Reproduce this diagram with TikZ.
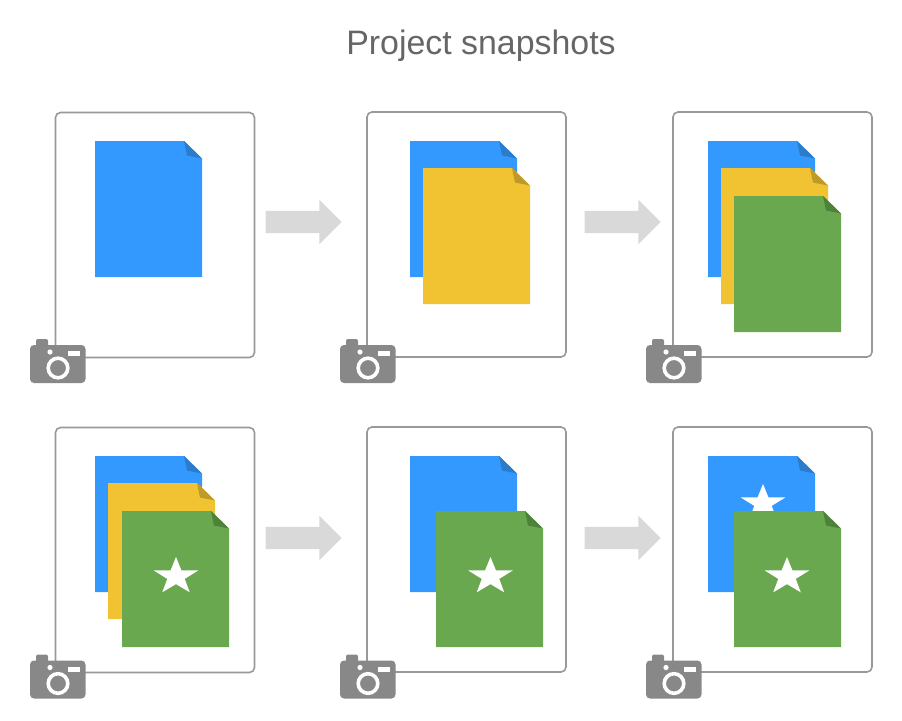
\documentclass[tikz,border=0pt]{standalone}
\usepackage{fontspec}
\setmainfont{Liberation Sans}
\usetikzlibrary{shapes.geometric,shapes.arrows}

\definecolor{docblue}{HTML}{3399FF}
\definecolor{foldblue}{HTML}{2B7CCB}
\definecolor{docyellow}{HTML}{F1C232}
\definecolor{foldyellow}{HTML}{BF9A28}
\definecolor{docgreen}{HTML}{6AA84F}
\definecolor{foldgreen}{HTML}{4E8239}
\definecolor{framegray}{HTML}{999999}
\definecolor{arrowgray}{HTML}{D9D9D9}
\definecolor{camgray}{HTML}{888888}
\definecolor{titlegray}{HTML}{666666}

\tikzset{
  frame node/.style={draw=framegray,line width=1.6pt,rounded corners=5pt,fill=white,inner sep=0pt,minimum width=199pt,minimum height=245pt},
  step arrow/.style={single arrow,fill=arrowgray,inner xsep=0pt,inner ysep=11pt,minimum height=76pt,single arrow head extend=11pt,single arrow tip angle=90},
  star mark/.style={star,star points=5,star point ratio=2.55,fill=white,inner sep=0pt,minimum size=39pt,xscale=1.2,transform shape}
}

% top left corner of a sheet, colour, colour of the fold
\newcommand{\docsheet}[4]{
  \fill[#3] (#1,#2) -- ++(89,0) -- ++(18,17.5) -- ++(0,118.5) -- ++(-107,0) -- cycle;
  \fill[#4] (#1+89,#2) -- ++(18,17.5) -- ++(-15,-3) -- cycle;
}

% top left corner of a camera
\newcommand{\camshot}[2]{
  \begin{scope}[shift={(#1,#2)}]
    \fill[camgray,rounded corners=2pt] (6,0) rectangle (18,10);
    \fill[camgray,rounded corners=4pt] (0,6) rectangle (55.5,44);
    \fill[white] (20,13) circle (2.6);
    \fill[white] (38,12) rectangle (50,17);
    \draw[white,line width=3.6pt] (28,29) circle (9.8);
  \end{scope}
}

\begin{document}
\begin{tikzpicture}[x=1pt,y=-1pt]
\useasboundingbox (0,0) rectangle (902,720);

\node[text=titlegray,font=\fontsize{33.9}{36}\selectfont] (title) at (481,45.5) {Project snapshots};

% top row
\node[frame node] (frame1) at (155,235) {};
\node[frame node] (frame2) at (466.5,234.5) {};
\node[frame node] (frame3) at (772.5,234.5) {};
% bottom row
\node[frame node] (frame4) at (155,550) {};
\node[frame node] (frame5) at (466.5,549.5) {};
\node[frame node] (frame6) at (772.5,549.5) {};

\node[step arrow] (arrow1) at (298,222) {};
\node[step arrow] (arrow2) at (617,222) {};
\node[step arrow] (arrow3) at (298,538) {};
\node[step arrow] (arrow4) at (617,538) {};

\docsheet{95}{141}{docblue}{foldblue}

\docsheet{410}{141}{docblue}{foldblue}
\docsheet{423}{168}{docyellow}{foldyellow}

\docsheet{708}{141}{docblue}{foldblue}
\docsheet{721}{168}{docyellow}{foldyellow}
\docsheet{734}{196}{docgreen}{foldgreen}

\docsheet{95}{456}{docblue}{foldblue}
\docsheet{108}{483}{docyellow}{foldyellow}
\docsheet{122}{511}{docgreen}{foldgreen}
\node[star mark] (star4) at (176,576.5) {};

\docsheet{410}{456}{docblue}{foldblue}
\docsheet{436}{511}{docgreen}{foldgreen}
\node[star mark] (star5) at (490.5,576.5) {};

\docsheet{708}{456}{docblue}{foldblue}
\node[star mark] (star6) at (763,503.5) {};
\docsheet{734}{511}{docgreen}{foldgreen}
\node[star mark] (star7) at (787,576.5) {};

\foreach \camx in {30,340,646}{
  \camshot{\camx}{339}
  \camshot{\camx}{654.5}
}

\end{tikzpicture}
\end{document}
